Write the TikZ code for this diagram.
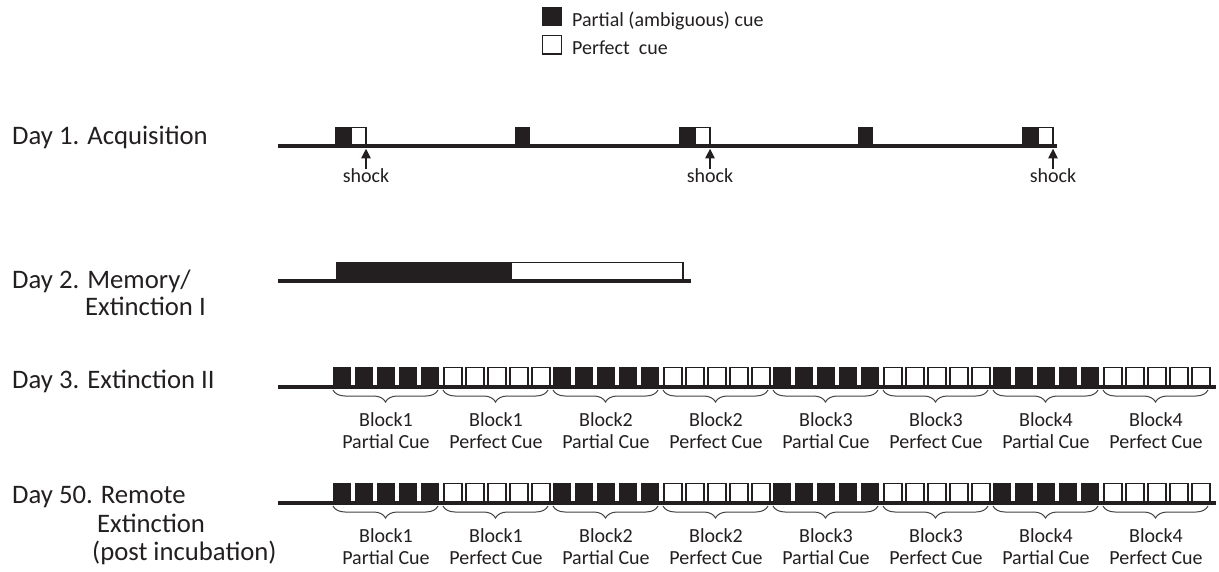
\documentclass[tikz,border=0pt]{standalone}
\usepackage{fontspec}
\setmainfont{Carlito}
\usetikzlibrary{arrows.meta,decorations.pathreplacing}
\definecolor{ink}{RGB}{35,31,32}
\begin{document}
\begin{tikzpicture}[x=1pt,y=-1pt,
  heading/.style={anchor=base west, inner sep=0pt, font=\fontsize{26.7}{30}\selectfont, text=ink},
  lab/.style={anchor=base, inner sep=0pt, font=\fontsize{20}{22}\selectfont, text=ink},
  leglab/.style={anchor=base west, inner sep=0pt, font=\fontsize{20}{22}\selectfont, text=ink},
  axis/.style={line width=3.2pt, draw=ink},
  fullcue/.style={fill=ink},
  emptycue/.style={draw=ink, line width=1.4pt, fill=white},
  bracelink/.style={decorate, decoration={brace, mirror, amplitude=12pt}, draw=ink!85, line width=1pt},
  shockarrow/.style={line width=2.6pt, draw=ink, -{Triangle[length=10pt,width=9pt]}}
]
\useasboundingbox (0,0) rectangle (1219,572);

% legend
\fill[fullcue] (542,7) rectangle (562,26.5);
\draw[emptycue] (542.7,35.7) rectangle (561.3,54);
\node[leglab] (legpartial) at (572,27) {Partial (ambiguous) cue};
\node[leglab] (legperfect) at (572,55) {Perfect\ \ cue};

% headings
\node[heading] (h1) at (12,145) {Day 1. Acquisition};
\node[heading] (h2a) at (12,289) {Day 2. Memory/};
\node[heading] (h2b) at (85,316) {Extinction I};
\node[heading] (h3) at (12,388) {Day 3. Extinction II};
\node[heading] (h50a) at (12,503) {Day 50. Remote};
\node[heading] (h50b) at (97,532) {Extinction};
\node[heading] (h50c) at (92,560) {(post incubation)};

% Day 1
\foreach \px/\k in {335/1,679/2,1022/3} {
  \fill[fullcue] (\px,127) rectangle (\px+16,146);
  \draw[emptycue] (\px+16.7,127.7) rectangle (\px+31,146);
  \node[lab] (shock\k) at (\px+31,183) {shock};
  \coordinate (hit\k) at (\px+31,148.5);
  \draw[shockarrow] (shock\k.north |- 0,169) -- (hit\k);
}
\foreach \px in {515,858} {
  \fill[fullcue] (\px,127) rectangle (\px+15,146);
}
\draw[axis] (278,146) -- (1057,146);

% Day 2
\fill[fullcue] (336,262) rectangle (511,281);
\draw[emptycue] (511,262.7) rectangle (683,281);
\draw[axis] (278,281) -- (691,281);

% Days 3 and 50
\foreach \L/\nm in {387/dthree,503/dfifty} {
  \foreach \b/\num in {0/1,2/2,4/3,6/4} {
    \pgfmathsetmacro\bx{332+110*\b}
    \foreach \j in {0,...,4} {
      \fill[fullcue] (\bx+\j*22+1,\L-20) rectangle ++(17.5,20);
    }
    \draw[bracelink] (\bx+1,\L+3) -- (\bx+106,\L+3);
    \node[lab] (\nm-b\b-a) at (\bx+54,\L+39) {Block\num};
    \node[lab] (\nm-b\b-b) at (\bx+54,\L+61) {Partial Cue};
  }
  \foreach \b/\num in {1/1,3/2,5/3,7/4} {
    \pgfmathsetmacro\bx{332+110*\b}
    \foreach \j in {0,...,4} {
      \draw[emptycue] (\bx+\j*22+2,\L-19.3) rectangle ++(18,19.3);
    }
    \draw[bracelink] (\bx+1,\L+3) -- (\bx+106,\L+3);
    \node[lab] (\nm-b\b-a) at (\bx+54,\L+39) {Block\num};
    \node[lab] (\nm-b\b-b) at (\bx+54,\L+61) {Perfect Cue};
  }
  \draw[axis] (278,\L) -- (1216,\L);
}
\end{tikzpicture}
\end{document}
